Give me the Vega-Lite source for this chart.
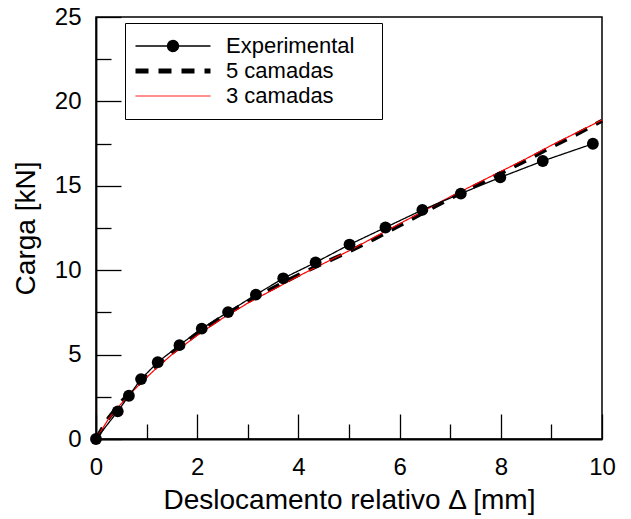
{
  "$schema": "https://vega.github.io/schema/vega-lite/v6.json",
  "width": 506,
  "height": 422,
  "autosize": {"type": "none"},
  "padding": {"left": 96, "top": 17, "right": 29, "bottom": 80},
  "background": "white",
  "config": {
    "view": {"stroke": "black", "strokeWidth": 1.5},
    "font": "Liberation Sans"
  },
  "data": {
    "values": [
      {"serie": "5 camadas", "x": 0, "y": 0},
      {"serie": "5 camadas", "x": 0.25, "y": 1.25},
      {"serie": "5 camadas", "x": 0.5, "y": 2.2},
      {"serie": "5 camadas", "x": 0.75, "y": 3.0},
      {"serie": "5 camadas", "x": 1, "y": 3.75},
      {"serie": "5 camadas", "x": 1.25, "y": 4.45},
      {"serie": "5 camadas", "x": 1.5, "y": 5.1},
      {"serie": "5 camadas", "x": 2, "y": 6.25},
      {"serie": "5 camadas", "x": 2.5, "y": 7.25},
      {"serie": "5 camadas", "x": 3, "y": 8.15},
      {"serie": "5 camadas", "x": 3.5, "y": 8.95},
      {"serie": "5 camadas", "x": 4, "y": 9.72},
      {"serie": "5 camadas", "x": 4.5, "y": 10.42},
      {"serie": "5 camadas", "x": 5, "y": 11.1},
      {"serie": "5 camadas", "x": 5.5, "y": 11.85},
      {"serie": "5 camadas", "x": 6, "y": 12.65},
      {"serie": "5 camadas", "x": 6.5, "y": 13.45},
      {"serie": "5 camadas", "x": 7, "y": 14.25},
      {"serie": "5 camadas", "x": 7.5, "y": 15.0},
      {"serie": "5 camadas", "x": 8, "y": 15.75},
      {"serie": "5 camadas", "x": 8.5, "y": 16.5},
      {"serie": "5 camadas", "x": 9, "y": 17.3},
      {"serie": "5 camadas", "x": 9.5, "y": 18.05},
      {"serie": "5 camadas", "x": 10, "y": 18.85},
      {"serie": "3 camadas", "x": 0, "y": 0},
      {"serie": "3 camadas", "x": 0.25, "y": 1.2},
      {"serie": "3 camadas", "x": 0.5, "y": 2.1},
      {"serie": "3 camadas", "x": 0.75, "y": 2.9},
      {"serie": "3 camadas", "x": 1, "y": 3.65},
      {"serie": "3 camadas", "x": 1.25, "y": 4.35},
      {"serie": "3 camadas", "x": 1.5, "y": 5.0},
      {"serie": "3 camadas", "x": 2, "y": 6.15},
      {"serie": "3 camadas", "x": 2.5, "y": 7.15},
      {"serie": "3 camadas", "x": 3, "y": 8.05},
      {"serie": "3 camadas", "x": 3.5, "y": 8.85},
      {"serie": "3 camadas", "x": 4, "y": 9.65},
      {"serie": "3 camadas", "x": 4.5, "y": 10.4},
      {"serie": "3 camadas", "x": 5, "y": 11.15},
      {"serie": "3 camadas", "x": 5.5, "y": 11.95},
      {"serie": "3 camadas", "x": 6, "y": 12.75},
      {"serie": "3 camadas", "x": 6.5, "y": 13.55},
      {"serie": "3 camadas", "x": 7, "y": 14.35},
      {"serie": "3 camadas", "x": 7.5, "y": 15.1},
      {"serie": "3 camadas", "x": 8, "y": 15.85},
      {"serie": "3 camadas", "x": 8.5, "y": 16.6},
      {"serie": "3 camadas", "x": 9, "y": 17.4},
      {"serie": "3 camadas", "x": 9.5, "y": 18.15},
      {"serie": "3 camadas", "x": 10, "y": 18.9},
      {"serie": "Experimental", "x": 0, "y": 0},
      {"serie": "Experimental", "x": 0.43, "y": 1.64},
      {"serie": "Experimental", "x": 0.65, "y": 2.56},
      {"serie": "Experimental", "x": 0.89, "y": 3.55},
      {"serie": "Experimental", "x": 1.22, "y": 4.55},
      {"serie": "Experimental", "x": 1.65, "y": 5.56},
      {"serie": "Experimental", "x": 2.09, "y": 6.54},
      {"serie": "Experimental", "x": 2.61, "y": 7.52},
      {"serie": "Experimental", "x": 3.16, "y": 8.55},
      {"serie": "Experimental", "x": 3.7, "y": 9.52},
      {"serie": "Experimental", "x": 4.34, "y": 10.46},
      {"serie": "Experimental", "x": 5.01, "y": 11.52},
      {"serie": "Experimental", "x": 5.72, "y": 12.53},
      {"serie": "Experimental", "x": 6.45, "y": 13.57},
      {"serie": "Experimental", "x": 7.21, "y": 14.54},
      {"serie": "Experimental", "x": 7.99, "y": 15.5},
      {"serie": "Experimental", "x": 8.83, "y": 16.47},
      {"serie": "Experimental", "x": 9.82, "y": 17.49}
    ]
  },
  "encoding": {
    "x": {
      "field": "x",
      "type": "quantitative",
      "scale": {"domain": [0, 10], "nice": false, "zero": false},
      "axis": {
        "values": [0, 1, 2, 3, 4, 5, 6, 7, 8, 9, 10],
        "labelExpr": "datum.value % 2 === 0 ? datum.label : ''",
        "tickSize": {"condition": {"test": "datum.value % 2 === 0", "value": -25}, "value": -15},
        "tickColor": "black",
        "tickWidth": 1.3,
        "domainColor": "black",
        "domainWidth": 1.8,
        "grid": false,
        "labelFontSize": 24,
        "labelColor": "black",
        "labelFont": "Liberation Sans",
        "labelPadding": 41,
        "labelFlush": false,
        "labelOverlap": false,
        "title": "Deslocamento relativo Δ [mm]",
        "titleFont": "Liberation Sans",
        "titleFontSize": 28,
        "titleFontWeight": "normal",
        "titleColor": "black",
        "titlePadding": -3
      }
    },
    "y": {
      "field": "y",
      "type": "quantitative",
      "scale": {"domain": [0, 25], "nice": false, "zero": false},
      "axis": {
        "values": [0, 2.5, 5, 7.5, 10, 12.5, 15, 17.5, 20, 22.5, 25],
        "labelExpr": "datum.value % 5 === 0 ? datum.label : ''",
        "tickSize": {"condition": {"test": "datum.value % 5 === 0", "value": -25}, "value": -15},
        "tickColor": "black",
        "tickWidth": 1.3,
        "domainColor": "black",
        "domainWidth": 1.8,
        "grid": false,
        "labelFontSize": 24,
        "labelColor": "black",
        "labelFont": "Liberation Sans",
        "labelPadding": 40,
        "labelFlush": false,
        "labelOverlap": false,
        "title": "Carga [kN]",
        "titleFont": "Liberation Sans",
        "titleFontSize": 28,
        "titleFontWeight": "normal",
        "titleColor": "black",
        "titlePadding": 14
      }
    },
    "color": {
      "field": "serie",
      "type": "nominal",
      "scale": {"domain": ["Experimental", "5 camadas", "3 camadas"], "range": ["black", "black", "#ff0000"]},
      "legend": {
        "title": "ww",
        "titleOrient": "right",
        "titleFontSize": 10,
        "titleColor": "white",
        "titlePadding": 0,
        "orient": "none",
        "legendX": 29,
        "legendY": 6,
        "direction": "vertical",
        "symbolType": "stroke",
        "symbolSize": 625,
        "symbolOffset": 25,
        "labelFontSize": 22,
        "labelFont": "Liberation Sans",
        "labelColor": "black",
        "labelOffset": 42,
        "labelLimit": 400,
        "rowPadding": 3,
        "padding": 12,
        "strokeColor": "black",
        "fillColor": "white",
        "cornerRadius": 0,
        "encode": {
          "symbols": {
            "update": {
              "shape": {"signal": "datum.value === 'Experimental' ? 'M-3,0L3,0M0.44,0A0.44,0.44,0,1,1,-0.44,0A0.44,0.44,0,1,1,0.44,0Z' : 'M-3,0L3,0'"},
              "fill": {"signal": "datum.value === 'Experimental' ? 'black' : 'transparent'"},
              "stroke": {"signal": "datum.value === '3 camadas' ? '#ff0000' : 'black'"},
              "strokeWidth": {"signal": "datum.value === '5 camadas' ? 5 : (datum.value === '3 camadas' ? 1 : 1.3)"}
            }
          }
        }
      }
    },
    "strokeDash": {
      "field": "serie",
      "type": "nominal",
      "scale": {"domain": ["Experimental", "5 camadas", "3 camadas"], "range": [[1, 0], [13, 10], [1, 0]]}
    }
  },
  "layer": [
    {
      "transform": [{"filter": "datum.serie === '5 camadas'"}],
      "mark": {"type": "line", "strokeWidth": 4, "strokeCap": "butt"}
    },
    {
      "transform": [{"filter": "datum.serie === '3 camadas'"}],
      "mark": {"type": "line", "strokeWidth": 1.2, "strokeCap": "butt"}
    },
    {
      "transform": [{"filter": "datum.serie === 'Experimental'"}],
      "mark": {"type": "line", "strokeWidth": 1.3, "strokeCap": "butt"}
    },
    {
      "transform": [{"filter": "datum.serie === 'Experimental'"}],
      "mark": {"type": "point", "shape": "circle", "filled": true, "size": 140, "color": "black", "opacity": 1},
      "encoding": {"color": {"value": "black"}, "strokeDash": {"value": [1, 0]}}
    }
  ]
}
